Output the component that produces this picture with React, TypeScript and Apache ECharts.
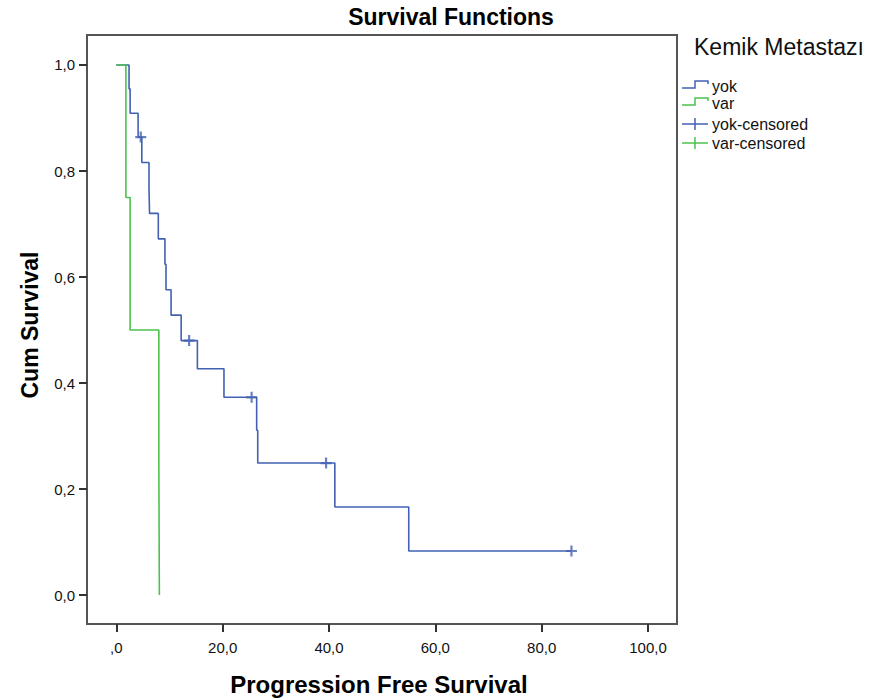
import React, { useEffect, useRef } from "react";
import * as echarts from "echarts";

// Kaplan-Meier step data
const yokTimes = [0, 2.4, 2.6, 4.1, 4.8, 6.15, 6.25, 7.9, 9.15, 9.35, 10.3, 12.2, 15.25, 20.25, 26.4, 26.6, 41.1, 55.0, 85.6];
const yokSurv = [1.0, 0.955, 0.909, 0.864, 0.816, 0.768, 0.72, 0.672, 0.624, 0.576, 0.528, 0.48, 0.427, 0.373, 0.311, 0.249, 0.166, 0.083, 0.083];
const varTimes = [0, 1.8, 2.6, 8.0, 8.1];
const varSurv = [1.0, 0.75, 0.5, 0.25, 0.0];
const yokCensTimes = [4.6, 13.7, 25.45, 39.45, 85.6];
const yokCensSurv = [0.864, 0.48, 0.373, 0.249, 0.083];
const varCensTimes: number[] = [];
const varCensSurv: number[] = [];

const xTicks = [0, 20, 40, 60, 80, 100];
const yTicks = [0, 0.2, 0.4, 0.6, 0.8, 1.0];

const legendTitle = "Kemik Metastazı";
const legendNames = ["yok", "var", "yok-censored", "var-censored"];

const BLUE = "#4261b2";
const GREEN = "#4cc24c";
const FONT = "'Liberation Sans', Arial, sans-serif";

const fmtX = (v: number) => (v === 0 ? ",0" : v.toFixed(1).replace(".", ","));
const fmtY = (v: number) => v.toFixed(1).replace(".", ",");

const CROSS = "path://M4,0h2v10h-2z M0,4h10v2h-10z";

export default function App() {
  const ref = useRef<HTMLDivElement>(null);
  useEffect(() => {
    document.body.style.margin = "0";
    const chart = echarts.init(ref.current!, null, { renderer: "svg" });
    const zip = (a: number[], b: number[]) => a.map((t, i) => [t, b[i]]);

    const stepIcon = (y: number, color: string) => ({
      type: "polyline",
      shape: { points: [[682, y + 2], [695, y + 2], [695, y - 5], [708, y - 5], [708, y - 2]] },
      style: { stroke: color, lineWidth: 1.5, fill: null },
    });
    const crossIcon = (y: number, color: string) => ({
      type: "group",
      children: [
        { type: "line", shape: { x1: 682, y1: y, x2: 708, y2: y }, style: { stroke: color, lineWidth: 1.5 } },
        { type: "line", shape: { x1: 695, y1: y - 6, x2: 695, y2: y + 6 }, style: { stroke: color, lineWidth: 1.5 } },
      ],
    });
    const legendYs = [86, 103, 124, 143];
    const legendText = (i: number) => ({
      type: "text",
      x: 712,
      y: legendYs[i],
      style: { text: legendNames[i], font: `16px ${FONT}`, fill: "#111", verticalAlign: "middle", align: "left" },
    });

    chart.setOption({
      animation: false,
      backgroundColor: "#fff",
      grid: { left: 87, top: 35, right: 193, bottom: 76, show: true, borderColor: "#555", borderWidth: 2, backgroundColor: "#fff" },
      xAxis: {
        type: "value",
        min: -5.51,
        max: 105.45,
        splitLine: { show: false },
        axisLine: { show: false, onZero: false },
        axisTick: { show: true, customValues: xTicks, length: 8, lineStyle: { color: "#333", width: 2 } },
        axisLabel: { customValues: xTicks, formatter: fmtX, margin: 16, color: "#111", fontSize: 15, fontFamily: FONT },
      },
      yAxis: {
        type: "value",
        min: -0.0547,
        max: 1.0566,
        splitLine: { show: false },
        axisLine: { show: false, onZero: false },
        axisTick: { show: true, customValues: yTicks, length: 8, lineStyle: { color: "#333", width: 2 } },
        axisLabel: { customValues: yTicks, formatter: fmtY, margin: 12, color: "#111", fontSize: 15, fontFamily: FONT },
      },
      series: [
        {
          name: "yok",
          type: "line",
          step: "end",
          data: zip(yokTimes, yokSurv),
          showSymbol: false,
          lineStyle: { color: BLUE, width: 1.6 },
          itemStyle: { color: BLUE },
          z: 2,
        },
        {
          name: "var",
          type: "line",
          step: "end",
          data: zip(varTimes, varSurv),
          showSymbol: false,
          lineStyle: { color: GREEN, width: 1.6 },
          itemStyle: { color: GREEN },
          z: 3,
        },
        {
          name: "yok-censored",
          type: "scatter",
          data: zip(yokCensTimes, yokCensSurv),
          symbol: CROSS,
          symbolSize: 11,
          itemStyle: { color: BLUE },
          z: 4,
        },
        {
          name: "var-censored",
          type: "scatter",
          data: zip(varCensTimes, varCensSurv),
          symbol: CROSS,
          symbolSize: 11,
          itemStyle: { color: GREEN },
          z: 4,
        },
      ],
      graphic: [
        { type: "text", x: 451, y: 17, style: { text: "Survival Functions", font: `bold 23px ${FONT}`, fill: "#000", align: "center", verticalAlign: "middle" } },
        { type: "text", x: 379, y: 684, style: { text: "Progression Free Survival", font: `bold 24px ${FONT}`, fill: "#000", align: "center", verticalAlign: "middle" } },
        { type: "text", x: 30, y: 325, rotation: Math.PI / 2, style: { text: "Cum Survival", font: `bold 23px ${FONT}`, fill: "#000", align: "center", verticalAlign: "middle" } },
        { type: "text", x: 779, y: 47, style: { text: legendTitle, font: `23px ${FONT}`, fill: "#111", align: "center", verticalAlign: "middle" } },
        stepIcon(86, BLUE),
        stepIcon(103, GREEN),
        crossIcon(124, BLUE),
        crossIcon(143, GREEN),
        legendText(0),
        legendText(1),
        legendText(2),
        legendText(3),
      ],
    });
    return () => chart.dispose();
  }, []);
  return <div ref={ref} style={{ width: 870, height: 700 }} />;
}
